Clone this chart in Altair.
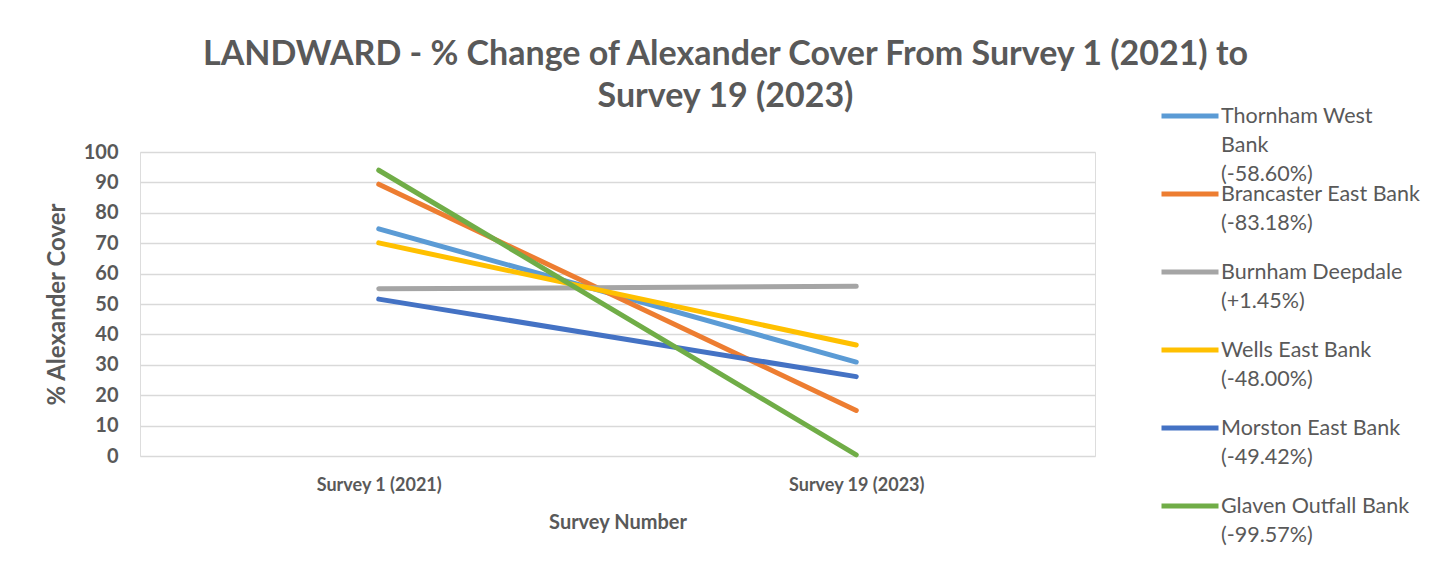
import altair as alt
import pandas as pd

sites = ["Thornham West Bank", "Brancaster East Bank", "Burnham Deepdale",
         "Wells East Bank", "Morston East Bank", "Glaven Outfall Bank"]
legend_labels = ["Thornham West\nBank\n(-58.60%)", "Brancaster East Bank\n(-83.18%)\n",
                 "Burnham Deepdale\n(+1.45%)\n", "Wells East Bank\n(-48.00%)\n",
                 "Morston East Bank\n(-49.42%)\n", "Glaven Outfall Bank\n(-99.57%)\n"]
surveys = ["Survey 1 (2021)", "Survey 19 (2023)"]
survey1 = [74.7, 89.4, 55.0, 70.1, 51.6, 94.0]
survey19 = [30.9, 15.0, 55.8, 36.5, 26.1, 0.4]
colors = ["#5B9BD5", "#ED7D31", "#A5A5A5", "#FFC000", "#4472C4", "#70AD47"]

rows = []
for i in range(len(sites)):
    rows.append({"site": legend_labels[i], "survey": surveys[0], "value": survey1[i], "order": i})
    rows.append({"site": legend_labels[i], "survey": surveys[1], "value": survey19[i], "order": i})
df = pd.DataFrame(rows)

FONT = "Lato"
GREY = "#595959"
DY = 7

chart = alt.Chart(df).mark_line(strokeWidth=5, strokeCap="round").encode(
    x=alt.X("survey:N", sort=surveys, title="Survey Number",
            scale=alt.Scale(type="point", padding=0.5),
            axis=alt.Axis(labelAngle=0, labelFontSize=18, labelFontWeight="bold",
                          labelColor=GREY, titleFontSize=20, titleFontWeight="bold",
                          titleColor=GREY, ticks=False, domain=False, grid=False,
                          labelPadding=20 - DY, titlePadding=18, labelFont=FONT,
                          titleFont=FONT)),
    y=alt.Y("value:Q", title="% Alexander Cover",
            scale=alt.Scale(domain=[0, 100], nice=False),
            axis=alt.Axis(values=list(range(0, 101, 10)), labelFontSize=20,
                          labelFontWeight="bold", labelColor=GREY, titleFontSize=24,
                          titleFontWeight="bold", titleColor=GREY, ticks=False,
                          domain=False, gridColor="#D9D9D9", gridWidth=1.5,
                          labelOffset=-DY, labelPadding=22, titlePadding=14,
                          labelFont=FONT, titleFont=FONT)),
    color=alt.Color("site:N", sort=legend_labels,
                    scale=alt.Scale(domain=legend_labels, range=colors),
                    legend=alt.Legend(title=None, orient="none", legendX=1019, legendY=-65,
                                      symbolType="stroke", symbolSize=3249, symbolStrokeWidth=5,
                                      labelFontSize=21.5, labelFont=FONT, labelColor=GREY,
                                      labelLimit=300, labelExpr="split(datum.label, '\\n')",
                                      labelBaseline="alphabetic", labelOffset=0,
                                      clipHeight=58, rowPadding=-21, gridAlign="none",
                                      padding=0)),
    order="order:Q",
).properties(
    width=955, height=304,
    title=alt.TitleParams(
        ["LANDWARD - % Change of Alexander Cover From Survey 1 (2021) to", "Survey 19 (2023)"],
        fontSize=34, font=FONT, fontWeight="bold", color=GREY, lineHeight=42,
        anchor="middle", dx=108, offset=-27),
    autosize=alt.AutoSizeParams(type="none"),
    padding={"left": 140, "top": 152, "right": 352, "bottom": 114},
).configure_view(stroke=None).configure(
    background="white",
    style={"guide-label": {"lineHeight": 29, "dy": DY}},
)

chart.save("out.html", embed_options={"renderer": "svg", "actions": False})
